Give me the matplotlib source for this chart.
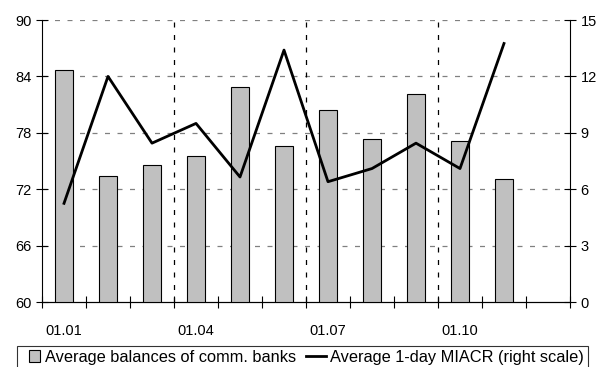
import numpy as np
import matplotlib.pyplot as plt
from matplotlib.patches import Rectangle
from matplotlib.container import BarContainer
from matplotlib.legend_handler import HandlerPatch

plt.rcParams['font.family'] = ['Liberation Sans', 'DejaVu Sans']
plt.rcParams['font.size'] = 10.5

months = ['01.01', '01.02', '01.03', '01.04', '01.05', '01.06',
          '01.07', '01.08', '01.09', '01.10', '01.11']
balances = [84.7, 73.4, 74.6, 75.5, 82.9, 76.6, 80.4, 77.3, 82.1, 77.1, 73.1]
miacr = [5.25, 12.0, 8.45, 9.5, 6.65, 13.4, 6.4, 7.1, 8.45, 7.1, 13.75]
tick_months = ['01.01', '01.04', '01.07', '01.10']

x = np.arange(len(months))

fig = plt.figure(figsize=(6.01, 3.67), dpi=100)
ax = fig.add_axes([0.0699, 0.177, 0.8785, 0.7685])
ax2 = ax.twinx()

ax.bar(x, balances, width=0.41, color='#c0c0c0', edgecolor='black', linewidth=0.8,
       label='Average balances of comm. banks', zorder=3)
ax2.plot(x, miacr, color='black', linewidth=2, label='Average 1-day MIACR (right scale)')

ax.set_xlim(-0.5, 11.5)
ax.set_ylim(60, 90)
ax.set_yticks(np.arange(60, 91, 6))
ax2.set_ylim(0, 15)
ax2.set_yticks(np.arange(0, 16, 3))

# tick marks between months, labels every quarter
ax.set_xticks(np.arange(-0.5, 12, 1))
ax.set_xticklabels([])
ax.set_xticks([months.index(m) for m in tick_months], minor=True)
ax.set_xticklabels(tick_months, minor=True)
ax.tick_params(axis='x', which='major', length=8, direction='inout')
ax.tick_params(axis='x', which='minor', length=0, pad=16)
ax.tick_params(axis='y', length=8, direction='inout')
ax2.tick_params(axis='y', length=8, direction='inout')

for y in np.arange(66, 91, 6):
    ax.axhline(y, color='#808080', linestyle=(0, (4, 6)), linewidth=0.9, zorder=1)
for q in [2.5, 5.5, 8.5]:
    ax.axvline(q, color='black', linestyle=(0, (4, 6)), linewidth=0.9, zorder=1)

for a in (ax, ax2):
    a.spines['top'].set_visible(False)
ax.spines['right'].set_visible(False)
ax2.spines['left'].set_visible(False)


def square_patch(legend, orig_handle, xdescent, ydescent, width, height, fontsize):
    s = height * 1.0
    return Rectangle((width - s - xdescent, -ydescent + (height - s) / 2), s, s)


def copy_style(legend_handle, orig_handle):
    legend_handle.update_from(orig_handle[0])


h1, l1 = ax.get_legend_handles_labels()
h2, l2 = ax2.get_legend_handles_labels()
leg = fig.legend(h1 + h2, l1 + l2, loc='center', bbox_to_anchor=(0.503, 0.027), ncol=2,
                 frameon=True, fancybox=False, edgecolor='black', handlelength=1.2,
                 handletextpad=0.3, columnspacing=0.6, borderpad=0.2, fontsize=11.8,
                 handler_map={BarContainer: HandlerPatch(patch_func=square_patch,
                                                         update_func=copy_style)})
leg.get_frame().set_linewidth(0.8)

fig.savefig('out.png', dpi=100)
